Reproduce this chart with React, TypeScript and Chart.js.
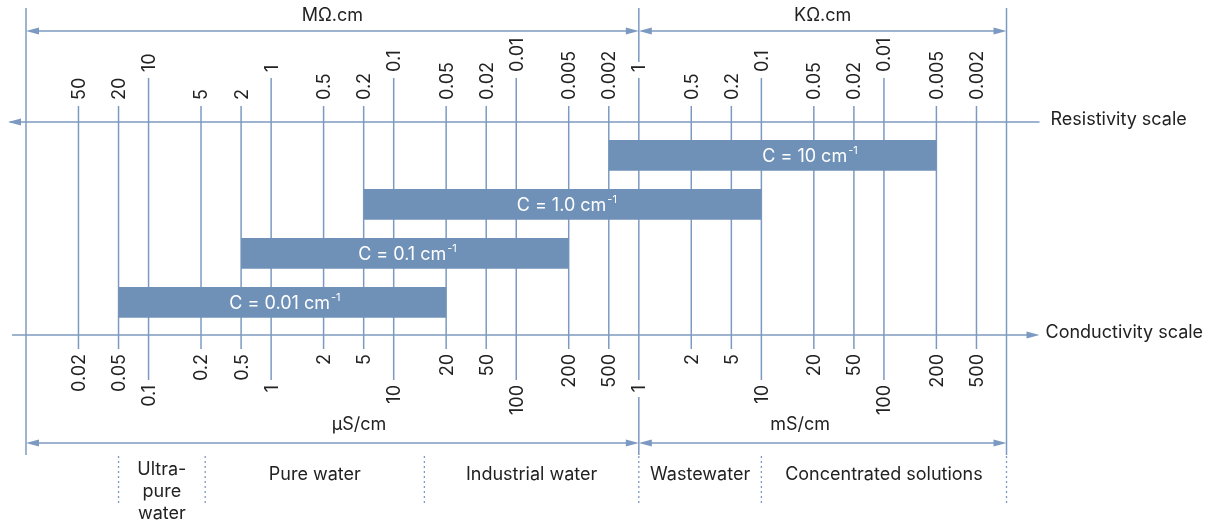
import React, { useEffect, useRef } from 'react';
import { Chart, registerables, LogarithmicScale } from 'chart.js';

Chart.register(...registerables);

// ---------- data ----------
// conductivity tick values in µS/cm
const conductivityTicks = [
  0.02, 0.05, 0.1, 0.2, 0.5, 1, 2, 5, 10, 20, 50, 100, 200, 500,
  1000, 2000, 5000, 10000, 20000, 50000, 100000, 200000, 500000,
];
const conductivityLabels = [
  '0.02', '0.05', '0.1', '0.2', '0.5', '1', '2', '5', '10', '20', '50', '100', '200', '500',
  '1', '2', '5', '10', '20', '50', '100', '200', '500',
];
const resistivityLabels = [
  '50', '20', '10', '5', '2', '1', '0.5', '0.2', '0.1', '0.05', '0.02', '0.01', '0.005', '0.002',
  '1', '0.5', '0.2', '0.1', '0.05', '0.02', '0.01', '0.005', '0.002',
];

// unit brackets (µS/cm)
const unitRanges = [
  [0.01, 1000],
  [1000, 1000000],
];
const resistivityUnits = ['MΩ.cm', 'KΩ.cm'];
const conductivityUnits = ['μS/cm', 'mS/cm'];
const conductivityUnitAt = [4.5, 16700];

// cell constants (floating bars, µS/cm)
const cellNames = ['C = 10 cm', 'C = 1.0 cm', 'C = 0.1 cm', 'C = 0.01 cm'];
const cellSuperscript = '-1';
const cellRanges = [
  [500, 200000],
  [5, 10000],
  [0.5, 200],
  [0.05, 20],
];
const cellLabelAt = [19000, 195, 12, 1.2];

// application regions
const regionBounds = [0.05, 0.22, 15, 1000, 10000, 1000000];
const regionNames = [
  ['Ultra-', 'pure', 'water'],
  ['Pure water'],
  ['Industrial water'],
  ['Wastewater'],
  ['Concentrated solutions'],
];
const axisNames = ['Resistivity scale', 'Conductivity scale'];

// ---------- styles ----------
const LINE = 'rgb(124,154,193)';
const BAR = 'rgb(111,145,183)';
const TEXT = '#222222';
const FONT = 'Inter, "Noto Sans", sans-serif';

// ---------- custom scale: the diagram's uneven log-like axis ----------
const MANT_LOG = [0, Math.log10(2), Math.log10(5), 1];
const MANT_POS = [0, 0.428, 0.755, 1];

function diagramPos(v: number): number {
  const l = Math.log10(v);
  const d = Math.floor(l + 1e-9);
  let f = l - d;
  if (f < 0) f = 0;
  for (let i = 0; i < 3; i++) {
    if (f <= MANT_LOG[i + 1] + 1e-12) {
      return d + MANT_POS[i] + ((f - MANT_LOG[i]) / (MANT_LOG[i + 1] - MANT_LOG[i])) * (MANT_POS[i + 1] - MANT_POS[i]);
    }
  }
  return d + 1;
}
function diagramInv(p: number): number {
  const d = Math.floor(p);
  const f = p - d;
  for (let i = 0; i < 3; i++) {
    if (f <= MANT_POS[i + 1]) {
      const lf = MANT_LOG[i] + ((f - MANT_POS[i]) / (MANT_POS[i + 1] - MANT_POS[i])) * (MANT_LOG[i + 1] - MANT_LOG[i]);
      return Math.pow(10, d + lf);
    }
  }
  return Math.pow(10, d + 1);
}

class DiagramScale extends (LogarithmicScale as any) {
  static id = 'diagramLog';
  static defaults = (LogarithmicScale as any).defaults;
  configure() {
    super.configure();
    (this as any)._ds = diagramPos((this as any).min);
    (this as any)._dr = diagramPos((this as any).max) - (this as any)._ds;
  }
  getPixelForValue(value: number) {
    const self = this as any;
    if (value === undefined || value === null || isNaN(value) || value <= 0) value = self.min;
    return self.getPixelForDecimal((diagramPos(value) - self._ds) / self._dr);
  }
  getValueForPixel(pixel: number) {
    const self = this as any;
    const dec = self.getDecimalForPixel(pixel);
    return diagramInv(self._ds + dec * self._dr);
  }
}
Chart.register(DiagramScale as any);

const isDecade = (v: number) => {
  const l = Math.log10(v);
  return Math.abs(l - Math.round(l)) < 1e-6;
};

function arrowHead(ctx: CanvasRenderingContext2D, tipX: number, y: number, dir: number) {
  const len = 13;
  const hw = 3.5;
  ctx.beginPath();
  ctx.moveTo(tipX, y);
  ctx.lineTo(tipX - dir * len, y - hw);
  ctx.lineTo(tipX - dir * len, y + hw);
  ctx.closePath();
  ctx.fill();
}

function vline(ctx: CanvasRenderingContext2D, x: number, y1: number, y2: number) {
  ctx.beginPath();
  ctx.moveTo(x, y1);
  ctx.lineTo(x, y2);
  ctx.stroke();
}
function hline(ctx: CanvasRenderingContext2D, x1: number, x2: number, y: number) {
  ctx.beginPath();
  ctx.moveTo(x1, y);
  ctx.lineTo(x2, y);
  ctx.stroke();
}

const RES_Y = 122;
const CON_Y = 335;
const TOP_BRACKET_Y = 31;
const BOT_BRACKET_Y = 443;

const diagramPlugin = {
  id: 'diagram',
  beforeDatasetsDraw(chart: any) {
    const ctx: CanvasRenderingContext2D = chart.ctx;
    const xs = chart.scales.x;
    const area = chart.chartArea;
    const px = (v: number) => xs.getPixelForValue(v);
    ctx.save();
    ctx.strokeStyle = LINE;
    ctx.fillStyle = LINE;
    ctx.lineWidth = 1.5;

    // tick lines
    conductivityTicks.forEach((v) => {
      const major = isDecade(v);
      vline(ctx, px(v), major ? 78 : 106, major ? 380 : 349);
    });

    // scale axes
    hline(ctx, area.left - 16, area.right + 33, RES_Y);
    arrowHead(ctx, area.left - 18, RES_Y, -1);
    hline(ctx, area.left - 14, area.right + 26, CON_Y);
    arrowHead(ctx, area.right + 33, CON_Y, 1);

    // unit brackets
    const bounds: number[] = [];
    unitRanges.forEach(([a, b]) => {
      const xa = px(a);
      const xb = px(b);
      [TOP_BRACKET_Y, BOT_BRACKET_Y].forEach((y) => {
        hline(ctx, xa + 4, xb - 4, y);
        arrowHead(ctx, xa, y, -1);
        arrowHead(ctx, xb, y, 1);
      });
      if (!bounds.includes(a)) bounds.push(a);
      if (!bounds.includes(b)) bounds.push(b);
    });
    bounds.forEach((v) => {
      const X = px(v);
      if (conductivityTicks.includes(v)) {
        vline(ctx, X, 8, 62);
        vline(ctx, X, 397, 455);
      } else {
        vline(ctx, X, 8, 455);
      }
    });

    // region dividers
    ctx.save();
    ctx.setLineDash([2, 3]);
    ctx.lineWidth = 1.3;
    regionBounds.forEach((v) => vline(ctx, px(v), 456, 506));
    ctx.restore();

    // texts
    ctx.fillStyle = TEXT;
    ctx.font = `18px ${FONT}`;
    ctx.textBaseline = 'middle';

    conductivityTicks.forEach((v, i) => {
      const major = isDecade(v);
      const X = px(v);
      // resistivity label (top)
      ctx.save();
      ctx.translate(X, major ? 72 : 100);
      ctx.rotate(-Math.PI / 2);
      ctx.textAlign = 'left';
      ctx.fillText(resistivityLabels[i], 0, 1);
      ctx.restore();
      // conductivity label (bottom)
      ctx.save();
      ctx.translate(X, major ? 385 : 354);
      ctx.rotate(-Math.PI / 2);
      ctx.textAlign = 'right';
      ctx.fillText(conductivityLabels[i], 0, 1);
      ctx.restore();
    });

    ctx.textAlign = 'center';
    unitRanges.forEach(([a, b], i) => {
      ctx.fillText(resistivityUnits[i], (px(a) + px(b)) / 2, 16);
      ctx.fillText(conductivityUnits[i], px(conductivityUnitAt[i]), 425);
    });

    regionNames.forEach((lines, i) => {
      const cx = (px(regionBounds[i]) + px(regionBounds[i + 1])) / 2;
      lines.forEach((t, j) => {
        const y = lines.length === 1 ? 475 : 470 + j * 22;
        ctx.fillText(t, cx, y);
      });
    });

    ctx.textAlign = 'left';
    ctx.fillText(axisNames[0], area.right + 44, RES_Y - 2);
    ctx.fillText(axisNames[1], area.right + 39, CON_Y - 2);

    ctx.restore();
  },
  afterDatasetsDraw(chart: any) {
    const ctx: CanvasRenderingContext2D = chart.ctx;
    const xs = chart.scales.x;
    const meta = chart.getDatasetMeta(0);
    ctx.save();
    ctx.fillStyle = '#ffffff';
    ctx.textBaseline = 'middle';
    ctx.textAlign = 'left';
    meta.data.forEach((el: any, i: number) => {
      const cx = xs.getPixelForValue(cellLabelAt[i]);
      ctx.font = `18px ${FONT}`;
      const w1 = ctx.measureText(cellNames[i]).width;
      ctx.font = `11px ${FONT}`;
      const w2 = ctx.measureText(cellSuperscript).width;
      const total = w1 + 1 + w2;
      const x0 = cx - total / 2;
      ctx.font = `18px ${FONT}`;
      ctx.fillText(cellNames[i], x0, el.y + 1);
      ctx.font = `11px ${FONT}`;
      ctx.fillText(cellSuperscript, x0 + w1 + 1, el.y - 5);
    });
    ctx.restore();
  },
};

export default function App() {
  const ref = useRef<HTMLCanvasElement | null>(null);
  useEffect(() => {
    if (!ref.current) return;
    const chart = new Chart(ref.current, {
      type: 'bar',
      data: {
        labels: cellNames,
        datasets: [
          {
            data: cellRanges as any,
            backgroundColor: BAR,
            borderWidth: 0,
            barPercentage: 0.626,
            categoryPercentage: 1,
          },
        ],
      },
      options: {
        indexAxis: 'y',
        responsive: false,
        animation: false,
        events: [],
        layout: { padding: { left: 26, right: 209.5, top: 130.8, bottom: 198 } },
        plugins: { legend: { display: false }, tooltip: { enabled: false } },
        scales: {
          x: { type: 'diagramLog' as any, min: 0.01, max: 1000000, display: false },
          y: { type: 'category', display: false },
        },
      },
      plugins: [diagramPlugin],
    });
    return () => chart.destroy();
  }, []);
  return (
    <div style={{ position: 'fixed', left: 0, top: 0, background: '#fff' }}>
      <canvas ref={ref} width={1216} height={525} style={{ display: 'block', width: 1216, height: 525 }} />
    </div>
  );
}
